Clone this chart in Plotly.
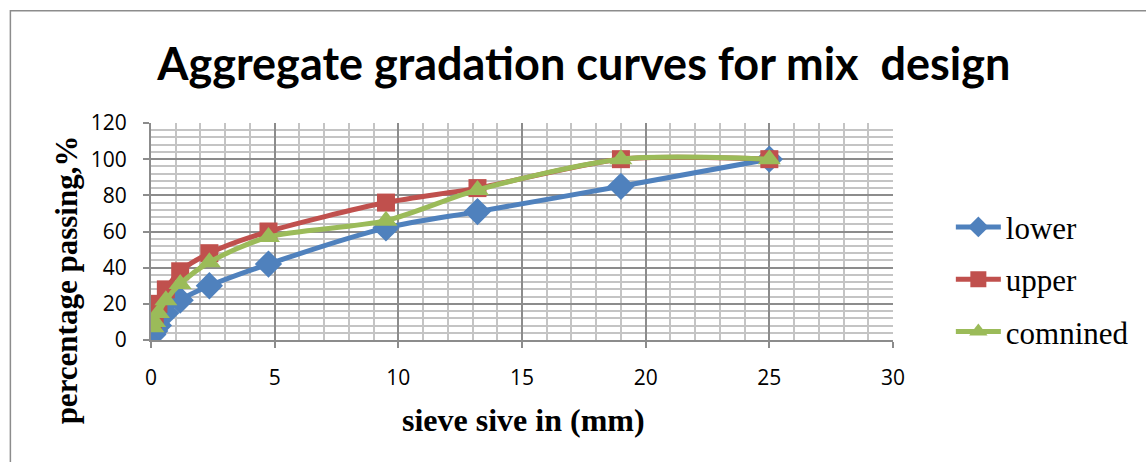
import plotly.graph_objects as go

sieve = [0.075, 0.15, 0.3, 0.6, 1.18, 2.36, 4.75, 9.5, 13.2, 19, 25]
lower = [3, 5, 8, 15, 22, 30, 42, 62, 71, 85, 100]
upper = [10, 14, 20, 28, 38, 48, 60, 76, 84, 100, 100]
combined = [7, 10, 15, 22, 31, 43, 57, 66, 83, 100, 100]

series = [
    ("lower", lower, "#4F81BD", "diamond", 21),
    ("upper", upper, "#C0504D", "square", 18),
    ("comnined", combined, "#9BBB59", "triangle-up", 20),
]

fig = go.Figure()
for i, (name, vals, col, sym, sz) in enumerate(series):
    fig.add_trace(go.Scatter(
        x=sieve, y=vals, name=name, mode="lines+markers",
        line=dict(color=col, width=5, shape="spline", smoothing=0.8),
        marker=dict(color=col, symbol=sym, size=sz, line=dict(width=0)),
        legendgroup=name,
    ))

L, R, T, B = 151, 895, 122.5, 340
W, H = 1146, 462
pw, ph = R - L, B - T

def px_x(p):
    return (p - L) / pw

def px_y(p):
    return (B - p) / ph

fig.update_layout(
    width=W, height=H,
    margin=dict(l=L, r=W - R, t=T, b=H - B),
    paper_bgcolor="white", plot_bgcolor="white",
    showlegend=True,
    title=dict(text="<b>Aggregate gradation curves for mix  design</b>",
               x=px_x(585), xref="paper", xanchor="center",
               y=1 - 64 / H, yanchor="middle",
               font=dict(family="Lato, sans-serif", size=45, color="black")),
    legend=dict(x=px_x(953), y=px_y(200), xanchor="left", yanchor="top",
                font=dict(family="Liberation Serif, serif", size=31, color="black"),
                itemwidth=45,
                tracegroupgap=9, traceorder="grouped", bgcolor="rgba(0,0,0,0)"),
    xaxis=dict(range=[0, 30], dtick=5, tick0=0,
               showgrid=True, gridcolor="#8C8C8C", gridwidth=2,
               minor=dict(dtick=1, showgrid=True, gridcolor="#C4C4C4", gridwidth=2),
               showline=True, linecolor="#8C8C8C", linewidth=2,
               ticks="outside", ticklen=6, tickcolor="#8C8C8C", tickwidth=2,
               ticklabelstandoff=12,
               tickfont=dict(family="Open Sans, sans-serif", size=21, color="black"),
               zeroline=False),
    yaxis=dict(range=[0, 120], dtick=20, tick0=0,
               showgrid=True, gridcolor="#8C8C8C", gridwidth=2,
               minor=dict(dtick=4, showgrid=True, gridcolor="#C4C4C4", gridwidth=2),
               showline=True, linecolor="#8C8C8C", linewidth=2,
               ticks="outside", ticklen=6, tickcolor="#8C8C8C", tickwidth=2,
               ticklabelstandoff=12,
               tickfont=dict(family="Open Sans, sans-serif", size=21, color="black"),
               zeroline=False),
    annotations=[
        dict(text="<b>sieve sive in (mm)</b>", x=px_x(525), y=px_y(420), xref="paper", yref="paper",
             xanchor="center", yanchor="middle", showarrow=False,
             font=dict(family="Liberation Serif, serif", size=32, color="black")),
        dict(text="<b>percentage passing,%</b>", x=px_x(66), y=px_y(280), xref="paper", yref="paper",
             xanchor="center", yanchor="middle", showarrow=False, textangle=-90,
             font=dict(family="Liberation Serif, serif", size=31, color="black")),
    ],
    shapes=[dict(type="rect", xref="paper", yref="paper",
                 x0=px_x(10), x1=px_x(1160), y0=px_y(480), y1=px_y(10),
                 line=dict(color="#8C8C8C", width=1.5), fillcolor="rgba(0,0,0,0)", layer="below")],
)

fig.write_html("out.html")
